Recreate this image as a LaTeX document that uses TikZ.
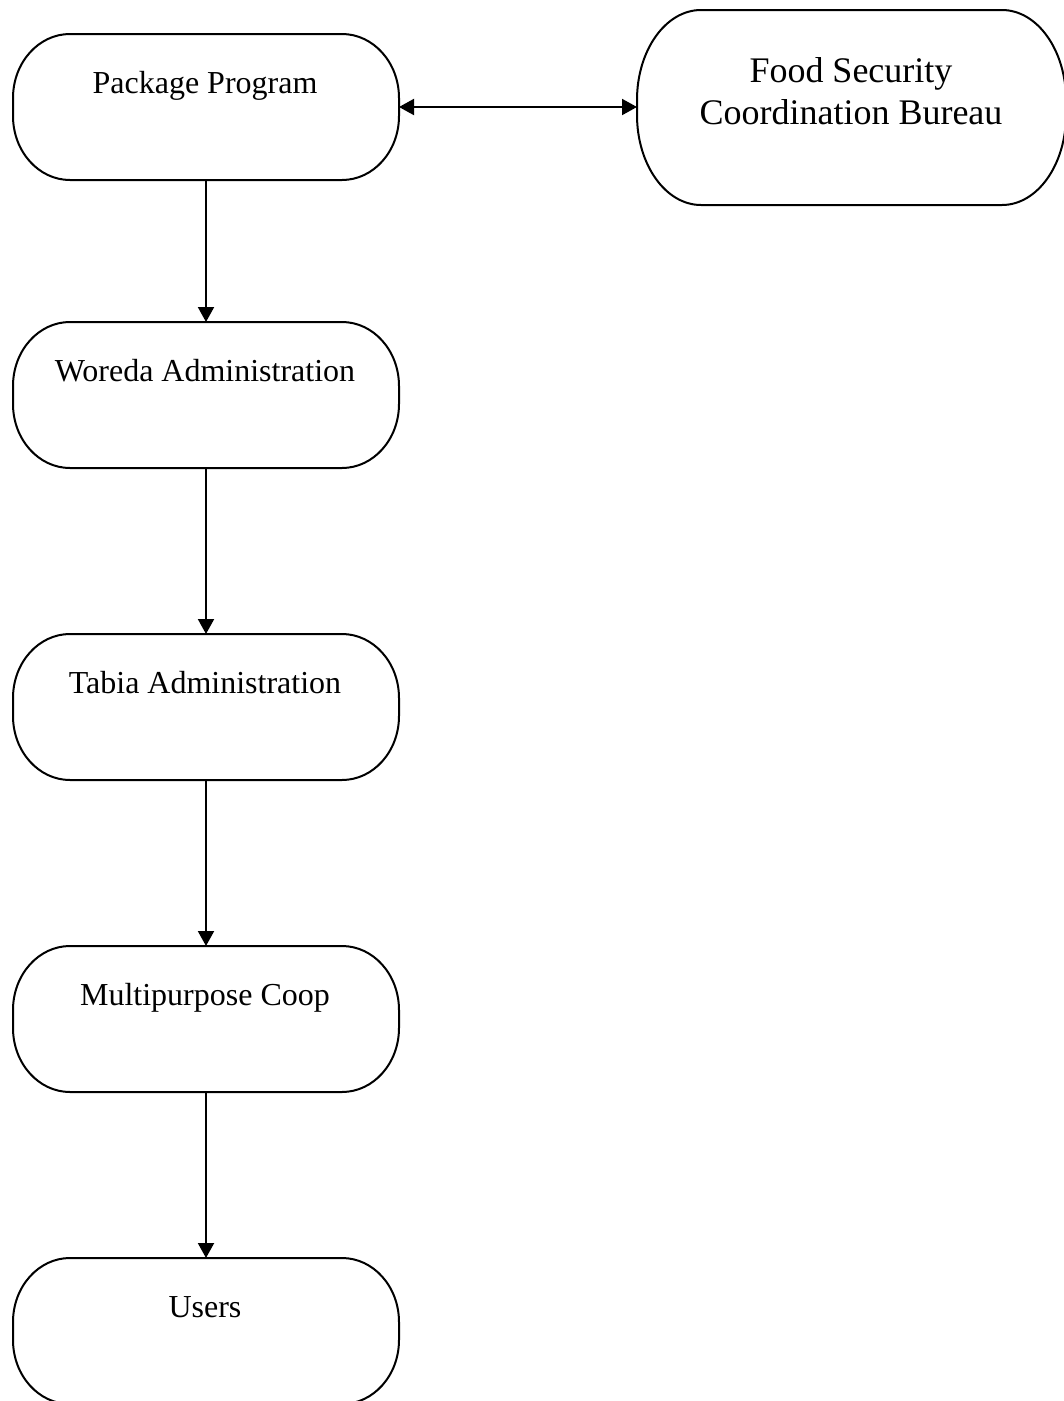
\documentclass[tikz,border=0pt]{standalone}
\usepackage{fontspec}
\setmainfont{Liberation Serif}
\usetikzlibrary{arrows.meta}
\newcommand\capsulebox[3]{%
  \draw ([xshift=#2]#1.north west) -- ([xshift=-#2]#1.north east)
    arc[start angle=90,end angle=0,x radius=#2,y radius=#3]
    -- ([yshift=#3]#1.south east)
    arc[start angle=0,end angle=-90,x radius=#2,y radius=#3]
    -- ([xshift=#2]#1.south west)
    arc[start angle=270,end angle=180,x radius=#2,y radius=#3]
    -- ([yshift=-#3]#1.north west)
    arc[start angle=180,end angle=90,x radius=#2,y radius=#3] -- cycle;}
\begin{document}
\begin{tikzpicture}[x=1pt,y=1pt,line width=2pt,
  box/.style={draw=none,minimum width=384pt,minimum height=144pt,inner sep=0pt,anchor=north west},
  bigbox/.style={draw=none,minimum width=427pt,minimum height=193pt,inner sep=0pt,anchor=north west},
  lbl/.style={font=\fontsize{32}{38}\selectfont,anchor=base,inner sep=0pt},
  biglbl/.style={font=\fontsize{36}{42}\selectfont,anchor=base,inner sep=0pt,align=center},
  arr/.style={-{Triangle[length=15pt,width=16pt]}},
  darr/.style={{Triangle[length=15pt,width=16pt]}-{Triangle[length=15pt,width=16pt]}}]
\useasboundingbox (0,0) rectangle (1064,-1401);
\node[box] (pp) at (13,-34) {};
\node[box] (wor) at (13,-322) {};
\node[box] (tab) at (13,-634) {};
\node[box] (mpc) at (13,-946) {};
\node[box] (usr) at (13,-1258) {};
\node[bigbox] (fscb) at (637,-10) {};
\capsulebox{pp}{57pt}{64pt}
\capsulebox{wor}{57pt}{64pt}
\capsulebox{tab}{57pt}{64pt}
\capsulebox{mpc}{57pt}{64pt}
\capsulebox{usr}{57pt}{64pt}
\capsulebox{fscb}{64pt}{90pt}
\node[lbl] (ppt) at (205,-93) {Package Program};
\node[lbl] (wort) at (205,-381) {Woreda Administration};
\node[lbl] (tabt) at (205,-693) {Tabia Administration};
\node[lbl] (mpct) at (205,-1005) {Multipurpose Coop};
\node[lbl] (usrt) at (205,-1317) {Users};
\node[biglbl] (fscbt) at (851,-124) {Food Security\\Coordination Bureau};
\draw[darr] (pp.east) -- (fscb.west |- pp.east);
\draw[arr] (pp.south) -- (wor.north);
\draw[arr] (wor.south) -- (tab.north);
\draw[arr] (tab.south) -- (mpc.north);
\draw[arr] (mpc.south) -- (usr.north);
\end{tikzpicture}
\end{document}
